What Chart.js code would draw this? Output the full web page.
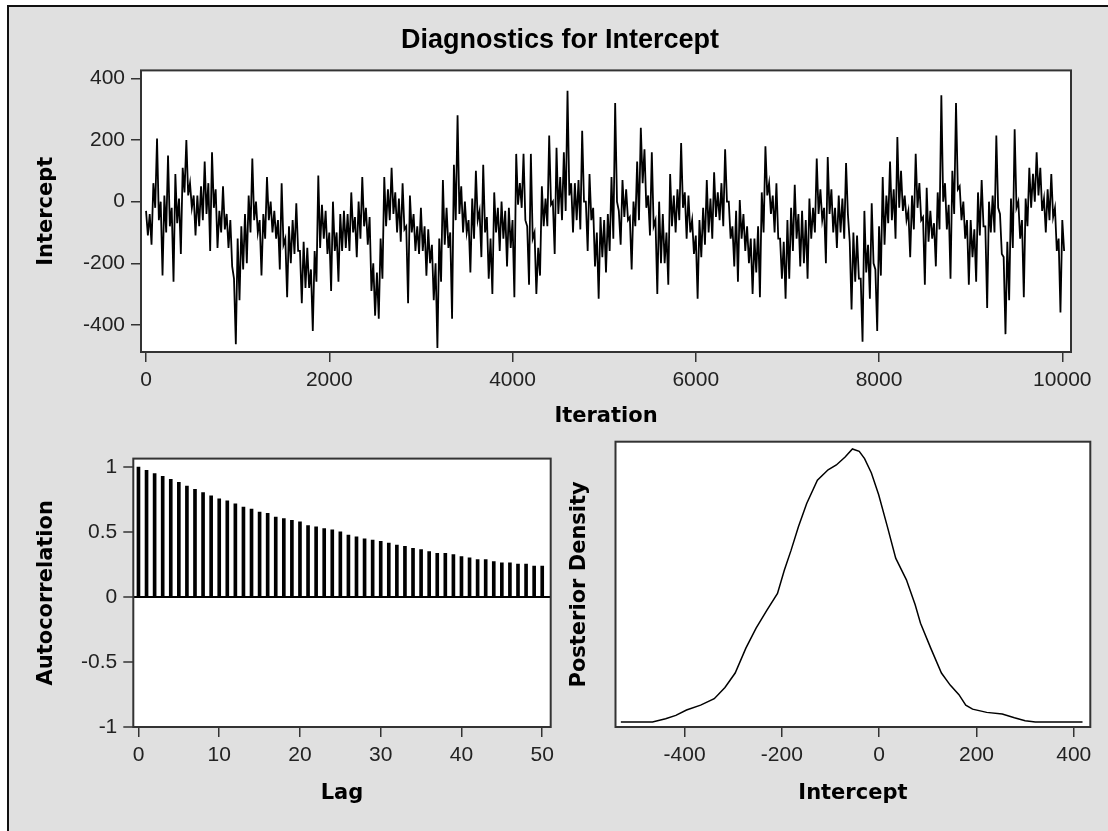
<!DOCTYPE html>
<html>
<head>
<meta charset="utf-8">
<script src="https://cdn.jsdelivr.net/npm/chart.js"></script>
<style>
  html, body { margin: 0; padding: 0; background: #fff; }
  #frame { position: absolute; left: 7px; top: 5px; width: 1101px; height: 826px; background: #e0e0e0;
           border-left: 2px solid #111; border-top: 2px solid #111; box-sizing: border-box; }
  canvas { position: absolute; }
</style>
</head>
<body>
<div id="frame"></div>
<canvas id="trace" width="1096" height="440" style="left:12px;top:0"></canvas>
<canvas id="acf" width="560" height="391" style="left:0;top:440px"></canvas>
<canvas id="dens" width="548" height="391" style="left:560px;top:440px"></canvas>
<script>
// trace of the intercept: highest and lowest draw in every 40-iteration window
const traceStep = 40;
const traceHigh = [
  -30, -40, 60, 205, 0, 20, 150, -20, 90, 10,
  110, 200, 60, 20, 20, 50, 130, 60, 160, 40,
  -30, 50, -40, -60, -250, -120, -80, -40, 20, 140,
  0, -60, -40, 80, 0, -30, -60, 60, -120, -80,
  -60, -5, -160, -130, -150, -220, -160, 85, -10, -30,
  -100, 0, -100, -40, -30, -40, 30, -50, 0, 80,
  -20, -50, -200,
  -230, -120, 80, 40, 110, 30, 10, 60, -80, 20,
  -40, -80, -20, -80, -90, -140, -200, -120, 70, -20,
  -100, 120, 280, 50, 0, -60, 10, 100, -30, 120,
  -50, -120, 30, -20, 0, -30, -20, -60, 155, 60,
  155, -80, 155, -100, -150, 50, 10, 215, 0, 175,
  80, 160, 360, 60, 60, 70, 230, 0, 90, -20,
  -100, -50, -60,
  -40, 80, 320, -30, 70, 40, -50, 0, 130, 240,
  170, 20, 160, -60, 0, -40, -100, 90, 20, 40,
  190, 30, 20, -60, -110, -60, -20, 70, 10, 95,
  30, 60, 170, 0, -80, -30, 5, -40, -80, -120,
  -120, -80, 30, 180, 60, 20, 60, -120, -130, -60,
  -20, 55, -40, -30, -60, 10, -20, 140, 40, -20,
  145, 40,
  -20, 20, 10, 125, -130, -100, -110, -250, -30, -140,
  -5, -220, -80, 80, 20, 130, 40, 210, 100, 20,
  -30, 20, 155, 60, -50, 45, -30, -70, 30, 345,
  60, -10, 100, 320, 50, 0, -60, -60, -90, 30,
  70, -80, 0, 20, 215, -40, -180, -130, 10, 235,
  0, -60, 10, 110, 90, 160, 110, 10, 40, 90,
  -20, -120, -60
];
const traceLow = [
  -110, -140, -20, -60, -240, -100, -80, -260, -70, -170,
  30, 20, -20, -110, -80, -60, -40, -160, -20, -150,
  -100, -90, -150, -210, -463, -320, -220, -200, -100, -60,
  -100, -240, -120, -60, -100, -120, -220, -140, -310, -200,
  -170, -160, -330, -280, -280, -420, -260, -150, -120, -170,
  -290, -160, -260, -160, -150, -160, -100, -180, -120, -80,
  -140, -290, -370,
  -380, -250, -80, -60, -40, -100, -130, -90, -330, -100,
  -160, -170, -160, -240, -200, -320, -475, -260, -140, -150,
  -380, -60, -40, -100, -100, -230, -120, -60, -180, -100,
  -250, -300, -100, -160, -120, -210, -150, -310, -10, -20,
  -60, -270, -120, -300, -240, -80, -80, -10, -170, -40,
  -60, -30, 20, -100, -60, -90, 0, -160, -60, -210,
  -315, -180, -230,
  -160, -120, 0, -140, -50, -60, -220, -80, -60, 60,
  -20, -110, -80, -300, -200, -200, -270, -80, -100, -60,
  -20, -120, -100, -170, -315, -180, -140, -100, -120, -50,
  -60, -80, 0, -120, -210, -260, -120, -160, -200, -300,
  -230, -310, -100, 20, -40, -100, -120, -250, -315, -250,
  -160, -120, -210, -200, -250, -120, -100, -40, -60, -200,
  -40, -100,
  -150, -100, -120, -40, -350, -260, -250, -455, -230, -315,
  -200, -420, -240, -140, -70, -60, -120, -20, -30, -60,
  -180, -90, -20, -60, -270, -130, -120, -210, -90, 0,
  -90, -250, -40, 40, -60, -120, -270, -180, -260, -110,
  -80, -345, -100, -100, -20, -170, -430, -320, -150, -20,
  -120, -310, -80, -20, 0, 20, -30, -100, -60, -50,
  -160, -360, -160
];
const iterTicks = [0, 2000, 4000, 6000, 8000, 10000];
const traceTicks = [-400, -200, 0, 200, 400];

// autocorrelation by lag
const acfLags = [];
for (let i = 0; i <= 50; i++) acfLags.push(i);
const acfValues = [
  1.0, 0.976, 0.951, 0.93, 0.907, 0.883, 0.854, 0.83, 0.805, 0.78,
  0.756, 0.741, 0.717, 0.693, 0.678, 0.654, 0.644, 0.615, 0.605, 0.59,
  0.58, 0.551, 0.541, 0.527, 0.517, 0.502, 0.478, 0.463, 0.449, 0.439,
  0.429, 0.415, 0.40, 0.39, 0.376, 0.366, 0.351, 0.337, 0.337, 0.327,
  0.312, 0.302, 0.288, 0.288, 0.273, 0.263, 0.263, 0.254, 0.254, 0.239,
  0.239
];
const lagTicks = [0, 10, 20, 30, 40, 50];
const acfTicks = [-1, -0.5, 0, 0.5, 1];

// posterior density of the intercept
const densX = [-531, -466, -439, -418, -396, -367, -339, -317, -296, -274,
  -253, -231, -209, -195, -181, -166, -149, -127, -105, -88,
  -70, -55, -41, -30, -16, -1, 17, 34, 56, 74,
  85, 106, 128, 146, 164, 178, 192, 221, 253, 278,
  300, 321, 418];
const densY = [0, 0, 0.000041, 0.000083, 0.00015, 0.00021, 0.00029, 0.00043, 0.00061, 0.00092,
  0.00117, 0.00139, 0.0016, 0.00189, 0.00214, 0.00243, 0.00272, 0.00301, 0.00314, 0.0032,
  0.0033, 0.0034, 0.00337, 0.00328, 0.0031, 0.00283, 0.00243, 0.00204, 0.00177, 0.00146,
  0.00123, 0.00092, 0.00061, 0.00046, 0.00034, 0.00021, 0.00016, 0.00012, 0.0001, 0.000054,
  0.000017, 0, 0];
const densTicks = [-400, -200, 0, 200, 400];

const tickFont = { family: 'Liberation Sans', size: 21 };
const titleFont = { family: 'DejaVu Sans', size: 21, weight: 'bold' };
const ink = '#222';

const boxFrame = {
  id: 'boxFrame',
  beforeDraw(chart) {
    const { ctx, chartArea: a } = chart;
    ctx.save();
    ctx.fillStyle = '#fff';
    ctx.fillRect(a.left, a.top, a.right - a.left, a.bottom - a.top);
    ctx.restore();
  },
  afterDraw(chart) {
    const { ctx, chartArea: a } = chart;
    ctx.save();
    ctx.strokeStyle = '#333';
    ctx.lineWidth = 2;
    ctx.strokeRect(a.left, a.top, a.right - a.left, a.bottom - a.top);
    ctx.restore();
  }
};

function fixedTicks(list) {
  return s => { s.ticks = list.map(v => ({ value: v })); };
}

function axis(extra) {
  return Object.assign({
    type: 'linear',
    offset: false,
    border: { display: false },
    grid: { drawOnChartArea: false, offset: false, tickLength: 10, color: '#333', lineWidth: 1.5 },
    ticks: { color: ink, font: tickFont, padding: 6, maxRotation: 0, callback: v => String(v) }
  }, extra);
}

const noPlugins = { legend: { display: false }, tooltip: { enabled: false } };

// each window is drawn as its high then its low
const tracePoints = [];
traceHigh.forEach((h, i) => {
  tracePoints.push({ x: i * traceStep, y: h });
  tracePoints.push({ x: i * traceStep + traceStep / 2, y: traceLow[i] });
});

new Chart(document.getElementById('trace'), {
  type: 'line',
  data: {
    datasets: [{
      data: tracePoints,
      borderColor: '#000',
      borderWidth: 1.8,
      pointRadius: 0,
      tension: 0
    }]
  },
  options: {
    responsive: false,
    animation: false,
    layout: { padding: 0 },
    plugins: Object.assign({
      title: {
        display: true,
        text: 'Diagnostics for Intercept',
        color: '#000',
        font: { family: 'Liberation Sans', size: 27, weight: 'bold' },
        padding: { top: 24, bottom: 14 }
      }
    }, noPlugins),
    scales: {
      x: axis({
        min: -55, max: 10095,
        afterBuildTicks: fixedTicks(iterTicks),
        afterFit: s => { s.height = 88; },
        title: { display: true, text: 'Iteration', color: '#000', font: titleFont, padding: { top: 0, bottom: 11 } }
      }),
      y: axis({
        min: -488, max: 426,
        afterBuildTicks: fixedTicks(traceTicks),
        afterFit: s => { s.width = 129; },
        title: { display: true, text: 'Intercept', color: '#000', font: titleFont, padding: { top: 22, bottom: 0 } }
      }),
      // empty right-hand margin so the title centres like the original
      yr: {
        type: 'linear',
        position: 'right',
        border: { display: false },
        grid: { display: false },
        ticks: { display: false },
        afterFit: s => { s.width = 37; }
      }
    }
  },
  plugins: [boxFrame]
});

new Chart(document.getElementById('acf'), {
  type: 'bar',
  data: {
    datasets: [{
      data: acfLags.map((l, i) => ({ x: l, y: acfValues[i] })),
      backgroundColor: '#000',
      barThickness: 3
    }]
  },
  options: {
    responsive: false,
    animation: false,
    layout: { padding: { left: 0, right: 5, top: 4.3, bottom: 0 } },
    plugins: noPlugins,
    scales: {
      x: axis({
        min: -0.64, max: 51.05,
        afterBuildTicks: fixedTicks(lagTicks),
        afterFit: s => { s.height = 104; },
        title: { display: true, text: 'Lag', color: '#000', font: titleFont, padding: { top: 0, bottom: 25 } }
      }),
      y: axis({
        min: -1, max: 1.066,
        afterBuildTicks: fixedTicks(acfTicks),
        afterFit: s => { s.width = 133.3; },
        grid: {
          drawOnChartArea: true, offset: false, tickLength: 10,
          color: c => (c.tick && c.tick.value === 0 ? '#000' : 'rgba(0,0,0,0)'),
          lineWidth: 2, tickColor: '#333', tickWidth: 1.5
        },
        title: { display: true, text: 'Autocorrelation', color: '#000', font: titleFont, padding: { top: 34, bottom: 0 } }
      })
    }
  },
  plugins: [boxFrame]
});

new Chart(document.getElementById('dens'), {
  type: 'line',
  data: {
    datasets: [{
      data: densX.map((x, i) => ({ x: x, y: densY[i] })),
      borderColor: '#000',
      borderWidth: 1.5,
      pointRadius: 0,
      tension: 0
    }]
  },
  options: {
    responsive: false,
    animation: false,
    layout: { padding: { left: 0, right: 17.7, top: 1.7, bottom: 0 } },
    plugins: noPlugins,
    scales: {
      x: axis({
        min: -542, max: 434,
        afterBuildTicks: fixedTicks(densTicks),
        afterFit: s => { s.height = 104; },
        title: { display: true, text: 'Intercept', color: '#000', font: titleFont, padding: { top: 0, bottom: 25 } }
      }),
      y: axis({
        min: -0.000062, max: 0.00349,
        afterFit: s => { s.width = 55.5; },
        grid: { display: false },
        ticks: { display: false },
        title: { display: true, text: 'Posterior Density', color: '#000', font: titleFont, padding: { top: 7, bottom: 0 } }
      })
    }
  },
  plugins: [boxFrame]
});
</script>
</body>
</html>
